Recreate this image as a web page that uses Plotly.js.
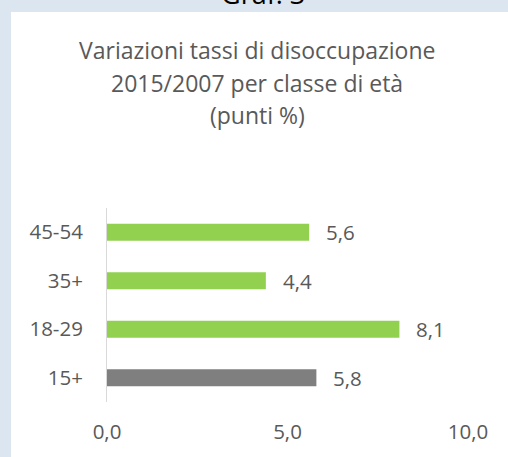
<!DOCTYPE html>
<html>
<head>
<meta charset="utf-8">
<script src="https://cdn.plot.ly/plotly-3.0.1.min.js"></script>
<style>
html,body{margin:0;padding:0;background:#dce6f1;}
#chart{width:508px;height:457px;}
</style>
</head>
<body>
<div id="chart"></div>
<script>
// Data
const categories = ["15+", "18-29", "35+", "45-54"];
const values = [5.8, 8.1, 4.4, 5.6];
const barColors = ["#7f7f7f", "#92d050", "#92d050", "#92d050"];
const xTickValues = [0, 5, 10];
const titleLines = ["Variazioni tassi di disoccupazione", "2015/2007 per classe di età", "(punti %)"];
const graphLabel = "Graf. 3";

// Geometry (pixels)
const W = 508, H = 457;
const L = 107, R = 40, T = 208, B = 55;
const pw = W - L - R, ph = H - T - B;
const px = p => (p - L) / pw;          // pixel x -> paper x
const py = p => (H - B - p) / ph;      // pixel y -> paper y

const textColor = "#595959";
const fontFam = "Open Sans, Noto Sans, sans-serif";

const fmt = v => v.toFixed(1).replace(".", ",");

const annotations = [];
titleLines.forEach((t, i) => {
  annotations.push({
    xref: "paper", yref: "paper",
    x: px(257), y: py([50, 83, 115][i]),
    xanchor: "center", yanchor: "middle",
    text: t, showarrow: false,
    font: {family: fontFam, size: 23, color: textColor}
  });
});
annotations.push({
  xref: "paper", yref: "paper",
  x: px(263), y: py(14),
  xanchor: "center", yanchor: "bottom",
  text: graphLabel, showarrow: false,
  font: {family: fontFam, size: 27, color: "#000000"}
});
categories.forEach((c, i) => {
  annotations.push({
    xref: "x", yref: "y",
    x: values[i], y: c,
    xanchor: "left", yanchor: "middle",
    xshift: 15,
    text: fmt(values[i]), showarrow: false,
    font: {family: fontFam, size: 20.5, color: textColor}
  });
});

const trace = {
  type: "bar",
  orientation: "h",
  y: categories,
  x: values,
  marker: {color: barColors},
  hoverinfo: "skip"
};

const layout = {
  width: W, height: H,
  margin: {l: L, r: R, t: T, b: B, pad: 0},
  paper_bgcolor: "#dce6f1",
  plot_bgcolor: "rgba(0,0,0,0)",
  separators: ", ",
  bargap: 0.65,
  showlegend: false,
  font: {family: fontFam, color: textColor, size: 20.5},
  xaxis: {
    range: [0, 10],
    tickvals: xTickValues,
    tickformat: ".1f",
    showgrid: false,
    zeroline: false,
    showline: false,
    ticks: "",
    ticklabelstandoff: 15,
    tickfont: {family: fontFam, size: 20.5, color: textColor},
    fixedrange: true
  },
  yaxis: {
    type: "category",
    categoryorder: "array",
    categoryarray: categories,
    range: [-0.5, 3.5],
    showgrid: false,
    zeroline: false,
    showline: true,
    linecolor: "#d9d9d9",
    linewidth: 1,
    ticks: "",
    ticklabelstandoff: 19,
    tickfont: {family: fontFam, size: 20.5, color: textColor},
    fixedrange: true
  },
  shapes: [{
    type: "rect", xref: "paper", yref: "paper", layer: "below",
    x0: px(11), x1: px(W + 5), y0: py(H + 5), y1: py(12),
    fillcolor: "#ffffff", line: {width: 0}
  }],
  annotations: annotations
};

Plotly.newPlot("chart", [trace], layout, {staticPlot: true, displayModeBar: false});
</script>
</body>
</html>
